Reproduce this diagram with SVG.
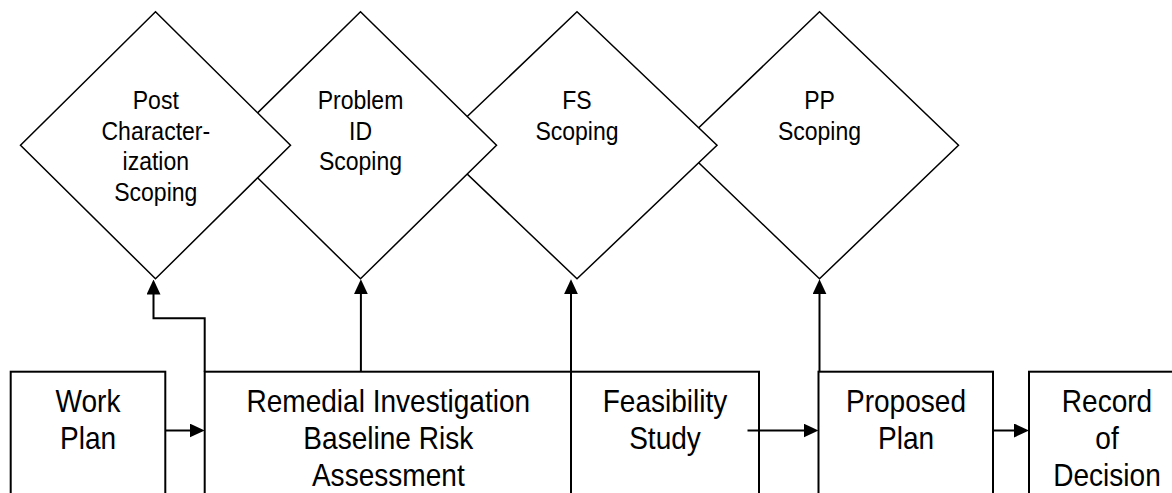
<svg xmlns="http://www.w3.org/2000/svg" width="1172" height="493" viewBox="0 0 1172 493">
<style>
.dia{fill:#fff;stroke:#000;stroke-width:1.5;stroke-linejoin:miter}
.box{fill:#fff;stroke:#000;stroke-width:2}
.con{fill:none;stroke:#000;stroke-width:2;marker-end:url(#arr)}
.dt{font-family:"Liberation Sans",Arial,sans-serif;font-size:26px;text-anchor:middle;fill:#000}
.bt{font-family:"Liberation Sans",Arial,sans-serif;font-size:30.5px;text-anchor:middle;fill:#000}
</style>
<defs>
<marker id="arr" markerUnits="userSpaceOnUse" markerWidth="15" markerHeight="14" refX="4" refY="7" orient="auto" viewBox="0 0 15 14">
<path d="M0,0 L15,7 L0,14 z" fill="#000"/>
</marker>
</defs>
<rect width="1172" height="493" fill="#fff"/>
<g id="pp-scoping">
<polygon class="dia" points="819.5,11.8 958.5,145.3 819.5,278.8 680.5,145.3"/>
<text class="dt" transform="translate(819.5,0) scale(0.885,1)"><tspan x="0" y="109">PP</tspan><tspan x="0" y="140">Scoping</tspan></text>
</g>
<g id="fs-scoping">
<polygon class="dia" points="577,11.8 717,145.3 577,278.8 437,145.3"/>
<text class="dt" transform="translate(577,0) scale(0.885,1)"><tspan x="0" y="109">FS</tspan><tspan x="0" y="140">Scoping</tspan></text>
</g>
<g id="problem-id-scoping">
<polygon class="dia" points="360.5,11.8 496.5,145.3 360.5,278.8 224.5,145.3"/>
<text class="dt" transform="translate(360.5,0) scale(0.885,1)"><tspan x="0" y="109">Problem</tspan><tspan x="0" y="140">ID</tspan><tspan x="0" y="170.5">Scoping</tspan></text>
</g>
<g id="post-char-scoping">
<polygon class="dia" points="155.5,11.8 290.5,145.3 155.5,278.8 20.5,145.3"/>
<text class="dt" transform="translate(155.8,0) scale(0.885,1)"><tspan x="0" y="109">Post</tspan><tspan x="0" y="140">Character-</tspan><tspan x="0" y="170.5">ization</tspan><tspan x="0" y="201">Scoping</tspan></text>
</g>
<g id="work-plan">
<rect class="box" x="10.7" y="371.7" width="154.6" height="140"/>
<text class="bt" transform="translate(88,0) scale(0.92,1)"><tspan x="0" y="412">Work</tspan><tspan x="0" y="449">Plan</tspan></text>
</g>
<g id="remedial-investigation">
<rect class="box" x="204.7" y="371.7" width="366.3" height="140"/>
<text class="bt" transform="translate(388.3,0) scale(0.92,1)"><tspan x="0" y="412">Remedial Investigation</tspan><tspan x="0" y="449">Baseline Risk</tspan><tspan x="0" y="486">Assessment</tspan></text>
</g>
<g id="feasibility-study">
<rect class="box" x="571" y="371.7" width="188" height="140"/>
<text class="bt" transform="translate(665,0) scale(0.92,1)"><tspan x="0" y="412">Feasibility</tspan><tspan x="0" y="449">Study</tspan></text>
</g>
<g id="proposed-plan">
<rect class="box" x="818.5" y="371.7" width="174.5" height="140"/>
<text class="bt" transform="translate(906,0) scale(0.92,1)"><tspan x="0" y="412">Proposed</tspan><tspan x="0" y="449">Plan</tspan></text>
</g>
<g id="record-of-decision">
<rect class="box" x="1029" y="371.7" width="170" height="140"/>
<text class="bt" transform="translate(1107,0) scale(0.92,1)"><tspan x="0" y="412">Record</tspan><tspan x="0" y="449">of</tspan><tspan x="0" y="486">Decision</tspan></text>
</g>
<g id="connectors">
<path class="con" d="M204.7,371.7 V318.3 H153.5 V290.5"/>
<path class="con" d="M360.9,371.7 V290.3"/>
<path class="con" d="M571,371.7 V290.3"/>
<path class="con" d="M819.5,371.7 V290.3"/>
<path class="con" d="M165.3,430.5 H193.7"/>
<path class="con" d="M747.5,430.5 H807.5"/>
<path class="con" d="M993,430.5 H1018"/>
</g>
</svg>
